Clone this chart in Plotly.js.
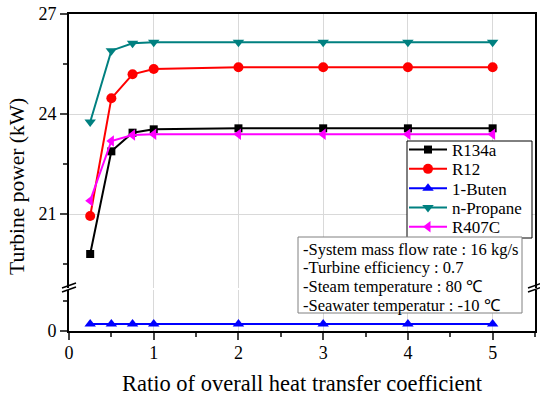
<!DOCTYPE html>
<html><head><meta charset="utf-8">
<script src="https://cdn.plot.ly/plotly-3.0.1.min.js"></script>
<style>html,body{margin:0;padding:0;background:#fff}#c{width:540px;height:395px}</style>
</head><body><div id="c"></div>
<script>
const ratio = [0.25, 0.5, 0.75, 1, 2, 3, 4, 5];
const r134a = [19.8, 22.88, 23.44, 23.54, 23.57, 23.57, 23.57, 23.57];
const r12 = [20.94, 24.47, 25.19, 25.35, 25.4, 25.4, 25.4, 25.4];
const buten = [0.23, 0.23, 0.23, 0.23, 0.23, 0.23, 0.23, 0.23];
const propane = [23.76, 25.9, 26.12, 26.15, 26.15, 26.15, 26.15, 26.15];
const r407c = [21.4, 23.19, 23.37, 23.39, 23.39, 23.39, 23.39, 23.39];
const names = ['R134a', 'R12', '1-Buten', 'n-Propane', 'R407C'];
const infoLines = ['-System mass flow rate : 16 kg/s', '-Turbine efficiency : 0.7', '-Steam temperature : 80 \u2103', '-Seawater temperatur : -10 \u2103'];

const serif = '"Liberation Serif", "Times New Roman", Times, serif';
const W = 540, H = 395, L = 69, R = 5, T = 14, B = 64;
const pw = W - L - R, ph = H - T - B;
const px = x => (x - L) / pw;
const py = y => (H - B - y) / ph;

const legIds = ['legend', 'legend2', 'legend3', 'legend4', 'legend5'];
function tr(y, i, color, symbol, size, yaxis, xaxis) {
  return {x: ratio, y: y, name: names[i], legend: legIds[i], type: 'scatter', mode: 'lines+markers',
    xaxis: xaxis, yaxis: yaxis,
    line: {color: color, width: 2}, marker: {color: color, symbol: symbol, size: size}};
}
const data = [
  tr(r134a, 0, '#000000', 'square', 8, 'y', 'x2'),
  tr(r12, 1, '#ff0000', 'circle', 10, 'y', 'x2'),
  tr(buten, 2, '#0000ff', 'triangle-up', 10, 'y2', 'x'),
  tr(propane, 3, '#008080', 'triangle-down', 10, 'y', 'x2'),
  tr(r407c, 4, '#ff00ff', 'triangle-left', 10, 'y', 'x2')
];

const upperBottom = 288, lowerTop = 290;
const pxPerUnit = 100 / 3;
const tickFont = {family: serif, size: 18, color: '#000'};
const layout = {
  width: W, height: H, margin: {l: L, r: R, t: T, b: B},
  paper_bgcolor: '#fff', plot_bgcolor: '#fff',
  font: {family: serif, size: 18, color: '#000'},
  showlegend: true,
  xaxis: {domain: [0, 1], anchor: 'y2', range: [0, 5.5], tick0: 0, dtick: 1,
    showline: true, linecolor: '#000', linewidth: 2, ticks: 'outside', ticklen: 7, tickwidth: 2,
    ticklabelstandoff: -3,
    minor: {dtick: 0.5, ticks: 'outside', ticklen: 4, tickwidth: 2, showgrid: false},
    showgrid: true, gridcolor: '#d9d9d9', gridwidth: 1, zeroline: false, tickfont: tickFont},
  xaxis2: {domain: [0, 1], anchor: 'y', matches: 'x', range: [0, 5.5], tick0: 0, dtick: 1,
    side: 'top', showticklabels: false, ticks: '', showline: true, linecolor: '#000', linewidth: 2,
    showgrid: true, gridcolor: '#d9d9d9', gridwidth: 1, zeroline: false},
  yaxis: {domain: [py(upperBottom), 1], anchor: 'x2',
    range: [27 - (upperBottom - T) / pxPerUnit, 27], tick0: 0, dtick: 3,
    showline: true, mirror: true, linecolor: '#000', linewidth: 2,
    ticks: 'outside', ticklen: 7, tickwidth: 2,
    minor: {dtick: 1.5, ticks: 'outside', ticklen: 4, tickwidth: 2, showgrid: false},
    showgrid: true, gridcolor: '#d9d9d9', gridwidth: 1, zeroline: false, tickfont: tickFont},
  yaxis2: {domain: [0, py(lowerTop)], anchor: 'x',
    range: [0, (H - B - lowerTop) / 30], tick0: 0, dtick: 2,
    showline: true, mirror: true, linecolor: '#000', linewidth: 2,
    ticks: 'outside', ticklen: 7, tickwidth: 2,
    minor: {dtick: 1, ticks: 'outside', ticklen: 4, tickwidth: 2, showgrid: false},
    showgrid: false, zeroline: false, tickfont: tickFont},
  shapes: [
    {type: 'rect', xref: 'paper', yref: 'paper', x0: px(407), x1: px(532), y0: py(238), y1: py(141),
      line: {color: '#000', width: 1}, fillcolor: '#fff', layer: 'above'},
    {type: 'rect', xref: 'paper', yref: 'paper', x0: px(298), x1: px(522), y0: py(313), y1: py(237),
      line: {color: '#808080', width: 1}, fillcolor: '#fff', layer: 'above'},
    {type: 'line', xref: 'paper', yref: 'paper', x0: px(62), y0: py(288), x1: px(76), y1: py(283), line: {color: '#000', width: 1.5}},
    {type: 'line', xref: 'paper', yref: 'paper', x0: px(62), y0: py(292), x1: px(76), y1: py(287), line: {color: '#000', width: 1.5}},
    {type: 'line', xref: 'paper', yref: 'paper', x0: px(528), y0: py(288), x1: px(542), y1: py(283), line: {color: '#000', width: 1.5}},
    {type: 'line', xref: 'paper', yref: 'paper', x0: px(528), y0: py(292), x1: px(542), y1: py(287), line: {color: '#000', width: 1.5}}
  ],
  annotations: [
    {xref: 'paper', yref: 'paper', x: px(17), y: py(187), xanchor: 'center', yanchor: 'middle',
      text: 'Turbine power (kW)', textangle: -90, showarrow: false,
      font: {family: serif, size: 21.5, color: '#000'}},
    {xref: 'paper', yref: 'paper', x: px(302), y: py(383), xanchor: 'center', yanchor: 'middle',
      text: 'Ratio of overall heat transfer coefficient', showarrow: false,
      font: {family: serif, size: 22.5, color: '#000'}}
  ]
};
const legCenters = [150, 169.3, 188.6, 208, 227.3];
legIds.forEach((id, i) => {
  layout[id] = {x: px(404), y: py(legCenters[i]), xanchor: 'left', yanchor: 'middle',
    bgcolor: 'rgba(0,0,0,0)', borderwidth: 0, itemwidth: 38,
    font: {family: serif, size: 17, color: '#000'}};
});
const infoCenters = [249, 267.7, 286.4, 305];
infoLines.forEach((t, i) => {
  layout.annotations.push({xref: 'paper', yref: 'paper', x: px(301), y: py(infoCenters[i]),
    xanchor: 'left', yanchor: 'middle', text: t, showarrow: false,
    font: {family: serif, size: 16.5, color: '#000'}});
});
Plotly.newPlot('c', data, layout, {displayModeBar: false, staticPlot: true});
</script></body></html>
